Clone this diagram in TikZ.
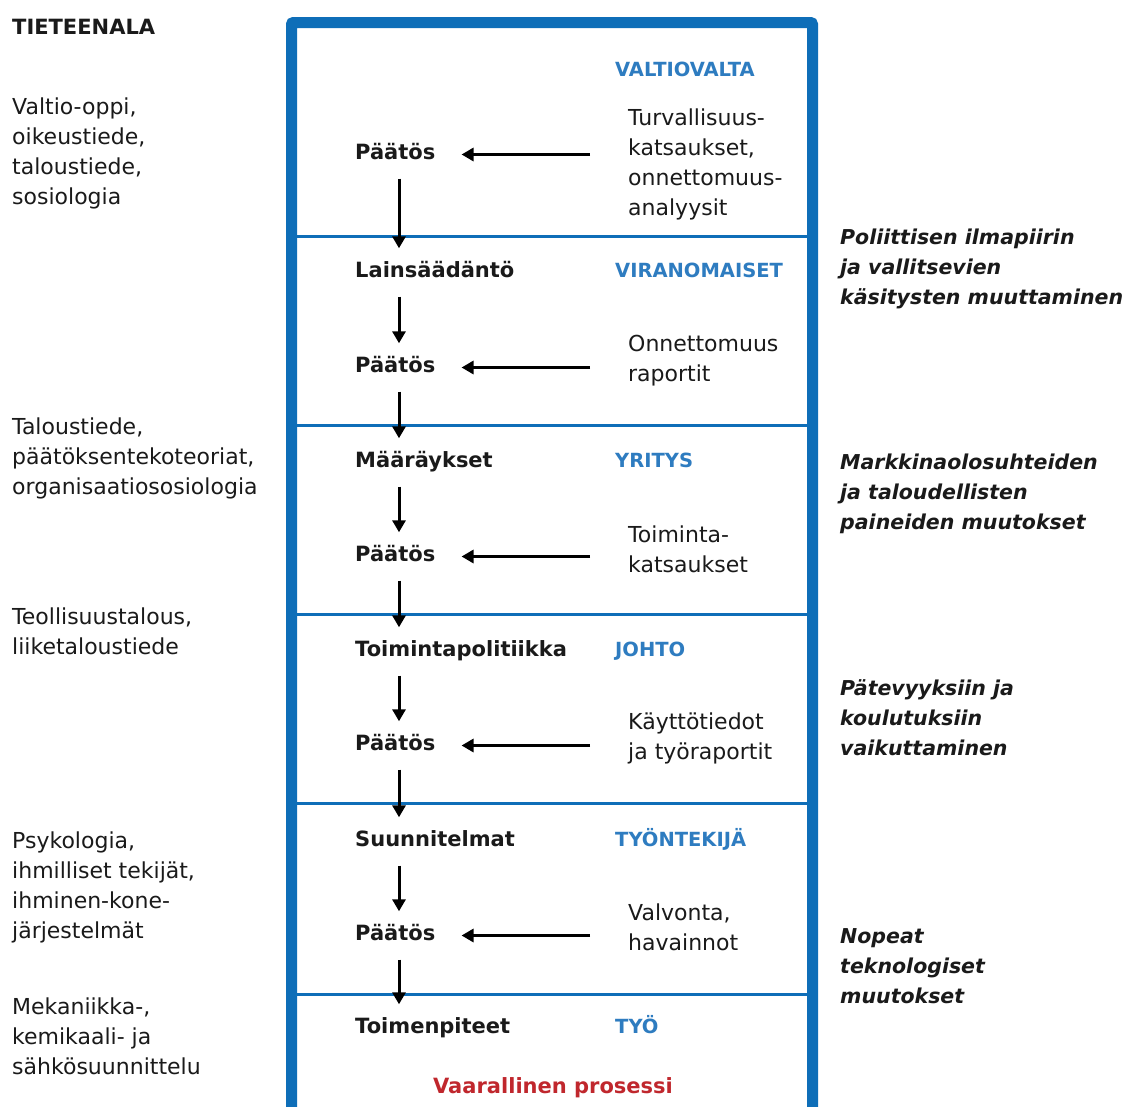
\documentclass[tikz,border=0pt]{standalone}
\usepackage{fontspec}
\setmainfont{DejaVu Sans}
\usetikzlibrary{arrows.meta}
\definecolor{frameblue}{HTML}{0E6EB8}
\definecolor{headblue}{HTML}{2E7CC0}
\definecolor{dangerred}{HTML}{C0272D}
\definecolor{ink}{HTML}{1A1A1A}
\begin{document}
\begin{tikzpicture}[x=1pt,y=-1pt,
  reg/.style={anchor=west,inner sep=0pt,align=left,font=\fontsize{22}{30}\selectfont,text=ink,yshift=-1.5pt},
  emphtxt/.style={anchor=west,inner sep=0pt,align=left,font=\fontsize{20.5}{30}\selectfont\bfseries\itshape,text=ink,yshift=-1.5pt},
  boldtxt/.style={anchor=west,inner sep=0pt,font=\fontsize{21}{30}\selectfont\bfseries,text=ink,text height=15pt,text depth=5pt,yshift=-1.5pt},
  headtxt/.style={anchor=west,inner sep=0pt,font=\fontsize{19.5}{30}\selectfont\bfseries,text=headblue,text height=15pt,text depth=5pt,yshift=-1.5pt},
  frame/.style={draw=frameblue,line width=11pt,rounded corners=2pt},
  sepline/.style={draw=frameblue,line width=3pt},
  varr/.style={-{Triangle[length=12pt,width=13pt]},line width=3pt,draw=black,shorten <=14pt,shorten >=14pt},
  harr/.style={-{Triangle[length=12pt,width=13pt]},line width=3pt,draw=black,shorten <=38pt,shorten >=26pt}
]
\useasboundingbox (0,0) rectangle (1130,1106);
\fill[white] (0,0) rectangle (1130,1106);

% frame and separators
\draw[frame] (291.5,22.5) rectangle (812.5,1140);
\foreach \yy in {236,425,614,803,994}{\draw[sepline] (297,\yy) -- (807,\yy);}

% left column
\node[boldtxt] (tf) at (12,28) {TIETEENALA};
\node[reg] (f1) at (12,152) {Valtio-oppi,\\oikeustiede,\\taloustiede,\\sosiologia};
\node[reg] (f2) at (12,457) {Taloustiede,\\päätöksentekoteoriat,\\organisaatiososiologia};
\node[reg] (f3) at (12,630) {Teollisuustalous,\\liiketaloustiede};
\node[reg] (f4) at (12,886) {Psykologia,\\ihmilliset tekijät,\\ihminen-kone-\\järjestelmät};
\node[reg] (f5) at (12,1035) {Mekaniikka-,\\kemikaali- ja\\sähkösuunnittelu};

% right column
\node[emphtxt] (e1) at (840,267) {Poliittisen ilmapiirin\\ja vallitsevien\\käsitysten muuttaminen};
\node[emphtxt] (e2) at (840,492) {Markkinaolosuhteiden\\ja taloudellisten\\paineiden muutokset};
\node[emphtxt] (e3) at (840,716) {Pätevyyksiin ja\\koulutuksiin\\vaikuttaminen};
\node[emphtxt] (e4) at (840,965) {Nopeat\\teknologiset\\muutokset};

% headers
\node[headtxt] (h1) at (615,70) {VALTIOVALTA};
\node[headtxt] (h2) at (615,271) {VIRANOMAISET};
\node[headtxt] (h3) at (615,461) {YRITYS};
\node[headtxt] (h4) at (615,650) {JOHTO};
\node[headtxt] (h5) at (615,840) {TYÖNTEKIJÄ};
\node[headtxt] (h6) at (615,1027) {TYÖ};

% chain nodes
\node[boldtxt] (p1) at (355,153) {Päätös};
\node[boldtxt] (l2) at (355,271) {Lainsäädäntö};
\node[boldtxt] (p2) at (355,366) {Päätös};
\node[boldtxt] (m3) at (355,461) {Määräykset};
\node[boldtxt] (p3) at (355,555) {Päätös};
\node[boldtxt] (t4) at (355,650) {Toimintapolitiikka};
\node[boldtxt] (p4) at (355,744) {Päätös};
\node[boldtxt] (s5) at (355,840) {Suunnitelmat};
\node[boldtxt] (p5) at (355,934) {Päätös};
\node[boldtxt] (t6) at (355,1027) {Toimenpiteet};

% info texts
\node[reg] (r1) at (628,163) {Turvallisuus-\\katsaukset,\\onnettomuus-\\analyysit};
\node[reg] (r2) at (628,359) {Onnettomuus\\raportit};
\node[reg] (r3) at (628,548) {Toiminta-\\katsaukset};
\node[reg] (r4) at (628,737) {Käyttötiedot\\ja työraportit};
\node[reg] (r5) at (628,926) {Valvonta,\\havainnot};

\node[boldtxt,anchor=center,text=dangerred] (vp) at (553,1087) {Vaarallinen prosessi};

% vertical arrows
\coordinate (ax) at (399,0);
\draw[varr] (p1.south -| ax) -- (l2.north -| ax);
\draw[varr] (l2.south -| ax) -- (p2.north -| ax);
\draw[varr] (p2.south -| ax) -- (m3.north -| ax);
\draw[varr] (m3.south -| ax) -- (p3.north -| ax);
\draw[varr] (p3.south -| ax) -- (t4.north -| ax);
\draw[varr] (t4.south -| ax) -- (p4.north -| ax);
\draw[varr] (p4.south -| ax) -- (s5.north -| ax);
\draw[varr] (s5.south -| ax) -- (p5.north -| ax);
\draw[varr] (p5.south -| ax) -- (t6.north -| ax);

% horizontal arrows
\draw[harr] (r1.west |- p1.east) -- (p1.east);
\draw[harr] (r2.west |- p2.east) -- (p2.east);
\draw[harr] (r3.west |- p3.east) -- (p3.east);
\draw[harr] (r4.west |- p4.east) -- (p4.east);
\draw[harr] (r5.west |- p5.east) -- (p5.east);
\end{tikzpicture}
\end{document}
